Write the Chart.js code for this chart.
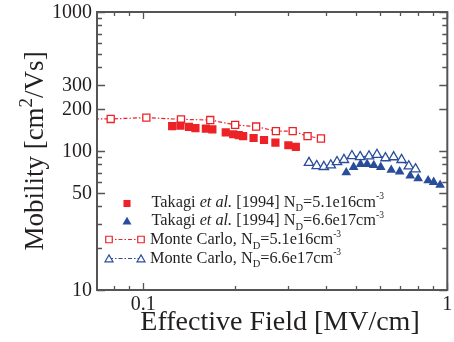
<!DOCTYPE html>
<html>
<head>
<meta charset="utf-8">
<script src="https://cdn.jsdelivr.net/npm/chart.js@4.4.1/dist/chart.umd.min.js"></script>
<style>
  html, body { margin: 0; padding: 0; background: #fff; }
</style>
</head>
<body>
<canvas id="chart" width="454" height="342"></canvas>
<script>
// Data (Effective Field in MV/cm, Mobility in cm2/Vs)
const takagiLowField = [0.1244, 0.1324, 0.1413, 0.1484, 0.1606, 0.1687, 0.1867, 0.1976, 0.206, 0.213, 0.2305, 0.2495, 0.272, 0.300, 0.3175];
const takagiLowMob = [151, 152, 149, 146, 145, 143, 136, 132, 130, 128, 124, 120, 115, 110, 107];

const takagiHighField = [0.4652, 0.4918, 0.5184, 0.5449, 0.573, 0.604, 0.654, 0.697, 0.755, 0.802, 0.865, 0.902, 0.947];
const takagiHighMob = [70, 76.5, 80.5, 80.5, 79, 76.5, 73, 71, 66.3, 63.4, 61.3, 59.7, 56.9];

const mcLowField = [0.06, 0.0781, 0.1023, 0.133, 0.166, 0.2005, 0.235, 0.273, 0.310, 0.347, 0.384];
const mcLowMob = [170, 170, 174, 169, 167, 154, 150, 139, 139, 128, 123];

const mcHighField = [0.3507, 0.3718, 0.3925, 0.4137, 0.4337, 0.4571, 0.4856, 0.5167, 0.5527, 0.587, 0.626, 0.666, 0.7073, 0.747, 0.786];
const mcHighMob = [82.3, 78.2, 77, 79.1, 83.5, 86.4, 92.2, 90.8, 91.8, 94.2, 89, 90.5, 86.4, 77.8, 74.1];

const xRange = [0.0704, 1];
const yRange = [10, 1000];
const xTickLabels = [0.1, 1];
const yTickLabels = [10, 50, 100, 200, 300, 1000];

const RED = '#ec2227';
const BLUE = '#2a4d9b';
const FRAME = '#555555';
const TEXT = '#231f20';
const SERIF = '"Liberation Serif", "Times New Roman", serif';

function pts(xs, ys) {
    return xs.map((x, i) => ({ x: x, y: ys[i] }));
}

// log tick values (1..9 x decade) that fall inside a range
function logTicks(lo, hi) {
    const out = [];
    for (let e = Math.floor(Math.log10(lo)); e <= Math.ceil(Math.log10(hi)); e++) {
        for (let m = 1; m <= 9; m++) {
            const v = m * Math.pow(10, e);
            if (v >= lo * 0.999 && v <= hi * 1.001) out.push(v);
        }
    }
    return out;
}

function near(list, v) {
    return list.some(t => Math.abs(t - v) / t < 1e-6);
}

// draw a run of text pieces (for sub/superscripts and italics)
function richWidth(ctx, parts) {
    let w = 0;
    parts.forEach(p => { ctx.font = p.font; w += ctx.measureText(p.t).width; });
    return w;
}
function drawRich(ctx, x, y, parts) {
    parts.forEach(p => {
        ctx.font = p.font;
        ctx.fillText(p.t, x, y + (p.dy || 0));
        x += ctx.measureText(p.t).width;
    });
}

function f(size, style) {
    return (style ? style + ' ' : '') + size + 'px ' + SERIF;
}

function ndLabel(takagi, conc) {
    const parts = [];
    if (takagi) {
        parts.push({ t: 'Takagi ', font: f(16.3) });
        parts.push({ t: 'et al.', font: f(16.3, 'italic') });
        parts.push({ t: ' [1994] N', font: f(16.3) });
    } else {
        parts.push({ t: 'Monte Carlo, N', font: f(16.3) });
    }
    parts.push({ t: 'D', font: f(10.5), dy: 4.5 });
    parts.push({ t: '=' + conc + 'cm', font: f(16.3) });
    parts.push({ t: '-3', font: f(9.5), dy: -7.5 });
    return parts;
}

const legendRows = [
    { parts: ndLabel(true, '5.1e16'), style: 'rect', color: RED, fill: RED, line: false },
    { parts: ndLabel(true, '6.6e17'), style: 'triangle', color: BLUE, fill: BLUE, line: false },
    { parts: ndLabel(false, '5.1e16'), style: 'rect', color: RED, fill: '#fff', line: true },
    { parts: ndLabel(false, '6.6e17'), style: 'triangle', color: BLUE, fill: '#fff', line: true }
];

const framePlugin = {
    id: 'framePlugin',
    afterDraw(chart) {
        const ctx = chart.ctx;
        const a = chart.chartArea;
        const xs = chart.scales.x;
        const ys = chart.scales.y;
        ctx.save();

        // inward ticks on all four sides
        ctx.strokeStyle = FRAME;
        ctx.lineWidth = 1.3;
        ctx.beginPath();
        logTicks(xRange[0], xRange[1]).forEach(v => {
            const px = Math.round(xs.getPixelForValue(v)) + 0.5;
            const len = near(xTickLabels, v) ? 7 : 4;
            ctx.moveTo(px, a.bottom); ctx.lineTo(px, a.bottom - len);
            ctx.moveTo(px, a.top); ctx.lineTo(px, a.top + len);
        });
        logTicks(yRange[0], yRange[1]).forEach(v => {
            const py = Math.round(ys.getPixelForValue(v)) + 0.5;
            const len = near(yTickLabels, v) ? 8 : 5;
            ctx.moveTo(a.left, py); ctx.lineTo(a.left + len, py);
            ctx.moveTo(a.right, py); ctx.lineTo(a.right - len, py);
        });
        ctx.stroke();

        // frame
        ctx.lineWidth = 2;
        ctx.strokeRect(a.left, a.top, a.right - a.left, a.bottom - a.top);

        // tick labels
        ctx.fillStyle = TEXT;
        ctx.font = f(20);
        ctx.textAlign = 'right';
        ctx.textBaseline = 'middle';
        yTickLabels.forEach(v => {
            ctx.fillText(String(v), a.left - 5, ys.getPixelForValue(v) + 1);
        });
        ctx.textAlign = 'center';
        ctx.textBaseline = 'top';
        xTickLabels.forEach(v => {
            ctx.fillText(String(v), xs.getPixelForValue(v), a.bottom + 5);
        });

        // axis titles
        ctx.textAlign = 'left';
        ctx.textBaseline = 'alphabetic';
        const xTitle = [{ t: 'Effective Field [MV/cm]', font: f(28) }];
        const xw = richWidth(ctx, xTitle);
        drawRich(ctx, 280 - xw / 2, 330, xTitle);

        const yTitle = [
            { t: 'Mobility [cm', font: f(27) },
            { t: '2', font: f(19), dy: -11 },
            { t: '/Vs]', font: f(27) }
        ];
        const yw = richWidth(ctx, yTitle);
        ctx.save();
        ctx.translate(43, (a.top + a.bottom) / 2);
        ctx.rotate(-Math.PI / 2);
        drawRich(ctx, -yw / 2, 0, yTitle);
        ctx.restore();

        // legend
        const rowY = [203.5, 221, 239.5, 258.5];
        const baseY = [206.7, 225, 244, 262.7];
        const textX = [151.5, 151.5, 150, 150];
        legendRows.forEach((row, i) => {
            const y = rowY[i];
            const dy = row.style === 'triangle' ? 1 : 0;
            ctx.strokeStyle = row.color;
            ctx.fillStyle = row.fill;
            if (row.line) {
                ctx.save();
                ctx.lineWidth = 1.2;
                ctx.setLineDash([4, 2, 1.5, 2]);
                ctx.beginPath();
                ctx.moveTo(109, y); ctx.lineTo(141, y);
                ctx.stroke();
                ctx.restore();
                ctx.lineWidth = 1.2;
                const opts = { pointStyle: row.style, radius: 4.6, borderWidth: 1.2 };
                Chart.helpers.drawPoint(ctx, opts, 109, y + dy);
                Chart.helpers.drawPoint(ctx, opts, 141, y + dy);
            } else {
                ctx.lineWidth = 0;
                Chart.helpers.drawPoint(ctx, { pointStyle: row.style, radius: row.style === 'rect' ? 5 : 5.2, borderWidth: 0 }, 127, y + dy);
            }
            ctx.fillStyle = TEXT;
            drawRich(ctx, textX[i], baseY[i], row.parts);
        });

        ctx.restore();
    }
};

const dashDot = [4, 2, 1.5, 2];

new Chart(document.getElementById('chart'), {
    type: 'scatter',
    data: {
        datasets: [
            {
                label: 'Takagi et al. [1994] ND=5.1e16cm-3',
                data: pts(takagiLowField, takagiLowMob),
                pointStyle: 'rect',
                pointRadius: 5.8,
                backgroundColor: RED,
                borderColor: RED,
                pointBorderWidth: 0
            },
            {
                label: 'Takagi et al. [1994] ND=6.6e17cm-3',
                data: pts(takagiHighField, takagiHighMob),
                pointStyle: 'triangle',
                pointRadius: 5.6,
                backgroundColor: BLUE,
                borderColor: BLUE,
                pointBorderWidth: 0
            },
            {
                label: 'Monte Carlo, ND=5.1e16cm-3',
                data: pts(mcLowField, mcLowMob),
                showLine: true,
                borderDash: dashDot,
                borderWidth: 1.2,
                borderColor: RED,
                pointStyle: 'rect',
                pointRadius: 5,
                pointBackgroundColor: '#fff',
                pointBorderColor: RED,
                pointBorderWidth: 1.3
            },
            {
                label: 'Monte Carlo, ND=6.6e17cm-3',
                data: pts(mcHighField, mcHighMob),
                showLine: true,
                borderDash: dashDot,
                borderWidth: 1.2,
                borderColor: BLUE,
                pointStyle: 'triangle',
                pointRadius: 5.4,
                pointBackgroundColor: '#fff',
                pointBorderColor: BLUE,
                pointBorderWidth: 1.3
            }
        ]
    },
    options: {
        responsive: false,
        animation: false,
        layout: { padding: { left: 97, top: 12, right: 2, bottom: 52 } },
        plugins: {
            legend: { display: false },
            tooltip: { enabled: false }
        },
        scales: {
            x: { type: 'logarithmic', min: xRange[0], max: xRange[1], display: false },
            y: { type: 'logarithmic', min: yRange[0], max: yRange[1], display: false }
        }
    },
    plugins: [framePlugin]
});
</script>
</body>
</html>
